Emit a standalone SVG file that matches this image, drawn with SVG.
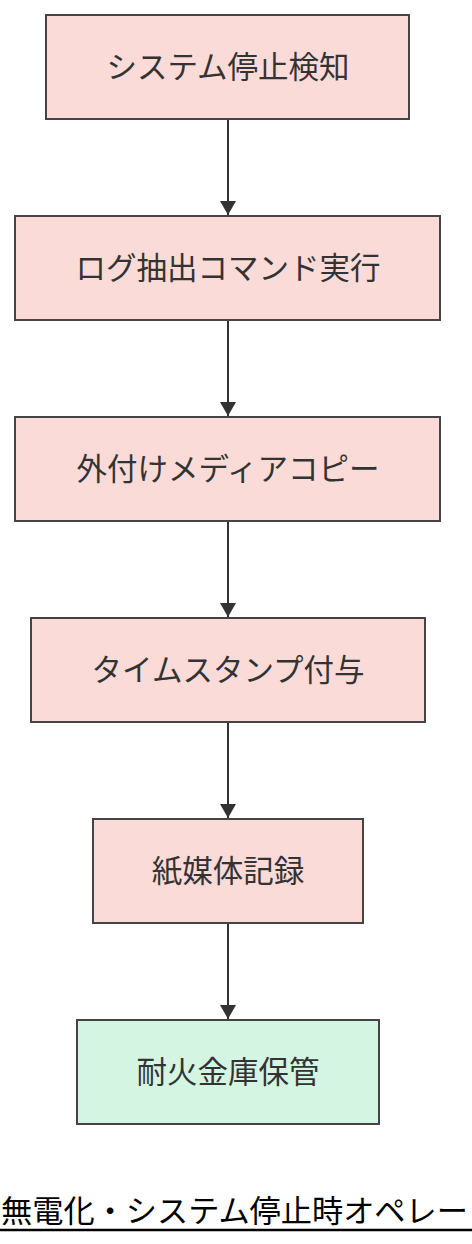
<svg xmlns="http://www.w3.org/2000/svg" width="472" height="1244" viewBox="0 0 472 1244">
<defs>
<style>
.n rect{fill:#fadbd8;stroke:#444;stroke-width:2}
.n.g rect{fill:#d5f5e3}
.n text{font-family:"Liberation Sans","Noto Sans CJK JP",sans-serif;font-size:30.5px;fill:#333;text-anchor:middle;dominant-baseline:central}
.e{stroke:#333;stroke-width:2;fill:none;marker-end:url(#ah)}
.t{font-family:"Liberation Sans","Noto Sans CJK JP",sans-serif;font-size:31.2px;fill:#000}
</style>
<marker id="ah" viewBox="0 0 14 16" refX="14" refY="8" markerWidth="14" markerHeight="16" markerUnits="userSpaceOnUse" orient="auto">
<path d="M0,0 L14,8 L0,16 z" fill="#333"/>
</marker>
</defs>
<rect width="472" height="1244" fill="#fff"/>
<g id="edges">
<line class="e" x1="228" y1="120" x2="228" y2="215"/>
<line class="e" x1="228" y1="321" x2="228" y2="416"/>
<line class="e" x1="228" y1="522" x2="228" y2="617"/>
<line class="e" x1="228" y1="723" x2="228" y2="818"/>
<line class="e" x1="228" y1="924" x2="228" y2="1019"/>
</g>
<g id="n1" class="n"><rect x="46" y="15" width="363" height="104"/><text x="228" y="67">システム停止検知</text></g>
<g id="n2" class="n"><rect x="15" y="216" width="425" height="104"/><text x="228" y="268">ログ抽出コマンド実行</text></g>
<g id="n3" class="n"><rect x="15" y="417" width="425" height="104"/><text x="228" y="469">外付けメディアコピー</text></g>
<g id="n4" class="n"><rect x="31" y="618" width="394" height="104"/><text x="228" y="670">タイムスタンプ付与</text></g>
<g id="n5" class="n"><rect x="93" y="819" width="270" height="104"/><text x="228" y="871">紙媒体記録</text></g>
<g id="n6" class="n g"><rect x="77" y="1020" width="302" height="104"/><text x="228" y="1072">耐火金庫保管</text></g>
<g id="title">
<text class="t" x="1" y="1222">無電化・システム停止時オペレー</text>
<line x1="0" y1="1230" x2="472" y2="1230" stroke="#000" stroke-width="2.5"/>
</g>
</svg>
